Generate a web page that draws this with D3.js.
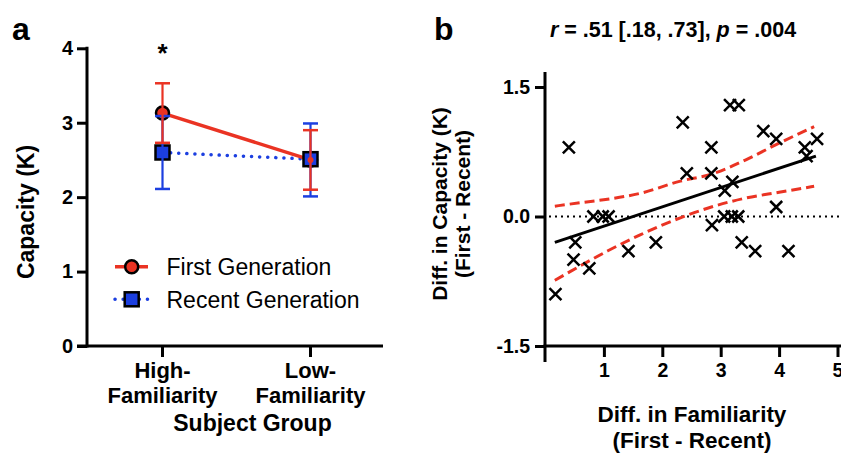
<!DOCTYPE html>
<html><head><meta charset="utf-8">
<script src="https://cdn.jsdelivr.net/npm/d3@7"></script>
<style>
html,body{margin:0;padding:0;background:#fff;}
svg{display:block;font-family:"Liberation Sans",Arial,sans-serif;}
</style></head>
<body>
<svg id="chart" width="841" height="453"></svg>
<script>
// ---------- Panel a data ----------
const groups = ["High-Familiarity", "Low-Familiarity"];
const groupLabelLines = [["High-", "Familiarity"], ["Low-", "Familiarity"]];
const firstMean = [3.13, 2.50];
const firstLo = [2.73, 2.10];
const firstHi = [3.53, 2.90];
const recentMean = [2.60, 2.51];
const recentLo = [2.11, 2.01];
const recentHi = [3.09, 2.99];
const capTicks = [0, 1, 2, 3, 4];
const seriesNames = ["First Generation", "Recent Generation"];

// ---------- Panel b data ----------
const famDiff = [0.17, 0.40, 0.48, 0.51, 0.75, 0.82, 0.98, 1.08, 1.42, 1.89, 2.35, 2.42, 2.84, 2.84, 2.85,
  3.06, 3.07, 3.16, 3.19, 3.20, 3.30, 3.31, 3.36, 3.59, 3.73, 3.95, 3.95, 4.16, 4.44, 4.47, 4.65];
const capDiff = [-0.90, 0.80, -0.50, -0.30, -0.60, 0.00, 0.00, 0.00, -0.40, -0.30, 1.09, 0.50, 0.80, 0.50, -0.10,
  0.00, 0.30, 1.29, 0.00, 0.40, 0.00, 1.29, -0.30, -0.40, 0.99, 0.90, 0.11, -0.40, 0.80, 0.70, 0.90];
const fitX = [0.16, 4.63];
const fitY = [-0.30, 0.70];
const ciX = [0.16, 0.6, 1.06, 1.63, 2.31, 2.84, 3.44, 4.0, 4.6];
const ciUpper = [0.12, 0.16, 0.20, 0.27, 0.41, 0.49, 0.66, 0.85, 1.04];
const ciLower = [-0.74, -0.57, -0.40, -0.21, -0.015, 0.11, 0.215, 0.28, 0.35];
const xTicksB = [1, 2, 3, 4, 5];
const yTicksB = [-1.5, 0, 1.5];
const statText = {r: ".51 [.18, .73]", p: ".004"};

const RED = "#ea3323", BLUE = "#1c3fe0";
const svg = d3.select("#chart");

// ================= Panel a =================
const ya = d3.scaleLinear().domain([0, 4]).range([346, 48.3]);
const xa = d3.scalePoint().domain(groups).range([162.5, 310.5]);

svg.append("text").attr("x", 12).attr("y", 40).attr("font-size", 32).attr("font-weight", "bold").text("a");

// y axis
const gya = svg.append("g").attr("transform", "translate(87,0)")
  .call(d3.axisLeft(ya).tickValues(capTicks).tickFormat(d3.format("d")).tickSize(10).tickPadding(4).tickSizeOuter(0));
gya.select(".domain").remove();
gya.selectAll(".tick line").attr("stroke", "#000").attr("stroke-width", 3);
gya.selectAll(".tick text").attr("font-size", 20).attr("font-weight", "bold").attr("fill", "#000").attr("font-family", "Liberation Sans, Arial, sans-serif");
svg.append("line").attr("x1", 87).attr("x2", 87).attr("y1", ya(4) - 1.5).attr("y2", ya(0) + 1.5).attr("stroke", "#000").attr("stroke-width", 3);

// x axis
svg.append("line").attr("x1", 77).attr("x2", 383).attr("y1", ya(0)).attr("y2", ya(0)).attr("stroke", "#000").attr("stroke-width", 3);
groups.forEach((g, i) => {
  svg.append("line").attr("x1", xa(g)).attr("x2", xa(g)).attr("y1", ya(0)).attr("y2", ya(0) + 11).attr("stroke", "#000").attr("stroke-width", 3);
  const t = svg.append("text").attr("x", xa(g)).attr("text-anchor", "middle").attr("font-size", 22).attr("font-weight", "bold");
  groupLabelLines[i].forEach((ln, j) => t.append("tspan").attr("x", xa(g)).attr("y", 378 + j * 25).text(ln));
});
svg.append("text").attr("x", 252.5).attr("y", 431).attr("text-anchor", "middle").attr("font-size", 23).attr("font-weight", "bold").text("Subject Group");
svg.append("text").attr("transform", "translate(34,212) rotate(-90)").attr("text-anchor", "middle").attr("font-size", 23).attr("font-weight", "bold").text("Capacity (K)");

// asterisk
svg.append("text").attr("x", xa(groups[0])).attr("y", 62).attr("text-anchor", "middle").attr("font-size", 26).attr("font-weight", "bold").text("*");

// lines
const lineA = d3.line().x((d, i) => xa(groups[i])).y(d => ya(d));
svg.append("path").attr("d", lineA(recentMean)).attr("fill", "none").attr("stroke", BLUE).attr("stroke-width", 3.5)
  .attr("stroke-dasharray", "0.1 8").attr("stroke-linecap", "round");
svg.append("path").attr("d", lineA(firstMean)).attr("fill", "none").attr("stroke", RED).attr("stroke-width", 3.5);

// markers
groups.forEach((g, i) => {
  svg.append("circle").attr("cx", xa(g)).attr("cy", ya(firstMean[i])).attr("r", 6.5).attr("fill", RED).attr("stroke", "#000").attr("stroke-width", 2.5);
});
groups.forEach((g, i) => {
  svg.append("rect").attr("x", xa(g) - 7).attr("y", ya(recentMean[i]) - 7).attr("width", 14).attr("height", 14)
    .attr("fill", BLUE).attr("stroke", "#000").attr("stroke-width", 2.5);
});
// error bars
function errBars(lo, hi, color) {
  groups.forEach((g, i) => {
    const x = xa(g);
    svg.append("line").attr("x1", x).attr("x2", x).attr("y1", ya(lo[i])).attr("y2", ya(hi[i])).attr("stroke", color).attr("stroke-width", 2.2);
    [lo[i], hi[i]].forEach(v => svg.append("line").attr("x1", x - 7.5).attr("x2", x + 7.5).attr("y1", ya(v)).attr("y2", ya(v)).attr("stroke", color).attr("stroke-width", 2.5));
  });
}
errBars(recentLo, recentHi, BLUE);
errBars(firstLo, firstHi, RED);
// red line tip over
svg.append("circle").attr("cx", xa(groups[1])).attr("cy", ya(firstMean[1])).attr("r", 3).attr("fill", RED);

// legend
const legY = [266.7, 299.3];
svg.append("line").attr("x1", 115).attr("x2", 148).attr("y1", legY[0]).attr("y2", legY[0]).attr("stroke", RED).attr("stroke-width", 3.5);
svg.append("circle").attr("cx", 131.7).attr("cy", legY[0]).attr("r", 6.5).attr("fill", RED).attr("stroke", "#000").attr("stroke-width", 2.5);
svg.append("line").attr("x1", 115).attr("x2", 148).attr("y1", legY[1]).attr("y2", legY[1]).attr("stroke", BLUE).attr("stroke-width", 3.5)
  .attr("stroke-dasharray", "0.1 8").attr("stroke-linecap", "round");
svg.append("rect").attr("x", 131.7 - 7).attr("y", legY[1] - 7).attr("width", 14).attr("height", 14).attr("fill", BLUE).attr("stroke", "#000").attr("stroke-width", 2.5);
seriesNames.forEach((n, i) => svg.append("text").attr("x", 166.5).attr("y", legY[i] + 8.3).attr("font-size", 23).text(n));

// ================= Panel b =================
const xb = d3.scaleLinear().domain([0, 5]).range([545.5, 837.5]);
const yb = d3.scaleLinear().domain([-1.5, 1.5]).range([346, 87]);

svg.append("text").attr("x", 434).attr("y", 40).attr("font-size", 32).attr("font-weight", "bold").text("b");
const title = svg.append("text").attr("x", 673).attr("y", 37).attr("text-anchor", "middle").attr("font-size", 21.5).attr("font-weight", "bold");
title.append("tspan").attr("font-style", "italic").text("r");
title.append("tspan").text(" = " + statText.r + ", ");
title.append("tspan").attr("font-style", "italic").text("p");
title.append("tspan").text(" = " + statText.p);

// zero line
svg.append("line").attr("x1", 549).attr("x2", 841).attr("y1", yb(0)).attr("y2", yb(0)).attr("stroke", "#000").attr("stroke-width", 2)
  .attr("stroke-dasharray", "2 4");

// axes
const gyb = svg.append("g").attr("transform", "translate(545,0)")
  .call(d3.axisLeft(yb).tickValues(yTicksB).tickFormat(d3.format(".1f")).tickSize(10).tickPadding(5).tickSizeOuter(0));
gyb.select(".domain").remove();
gyb.selectAll(".tick line").attr("stroke", "#000").attr("stroke-width", 3);
gyb.selectAll(".tick text").attr("font-size", 19.5).attr("font-weight", "bold").attr("fill", "#000").attr("font-family", "Liberation Sans, Arial, sans-serif")
  .text(d => d3.format(".1f")(d).replace("−", "-"));
const gxb = svg.append("g").attr("transform", "translate(0,346)")
  .call(d3.axisBottom(xb).tickValues(xTicksB).tickFormat(d3.format("d")).tickSize(11).tickPadding(6).tickSizeOuter(0));
gxb.select(".domain").remove();
gxb.selectAll(".tick line").attr("stroke", "#000").attr("stroke-width", 3);
gxb.selectAll(".tick text").attr("font-size", 19.5).attr("font-weight", "bold").attr("fill", "#000").attr("font-family", "Liberation Sans, Arial, sans-serif");
svg.append("line").attr("x1", 545).attr("x2", 545).attr("y1", 72).attr("y2", 362).attr("stroke", "#000").attr("stroke-width", 3);
svg.append("line").attr("x1", 543.5).attr("x2", 841).attr("y1", 346).attr("y2", 346).attr("stroke", "#000").attr("stroke-width", 3);

// titles
const yt = svg.append("text").attr("transform", "translate(0,204) rotate(-90)").attr("text-anchor", "middle").attr("font-size", 21).attr("font-weight", "bold");
yt.append("tspan").attr("x", 0).attr("y", 447).text("Diff. in Capacity (K)");
yt.append("tspan").attr("x", 0).attr("y", 470).text("(First - Recent)");
const xt = svg.append("text").attr("text-anchor", "middle").attr("font-size", 22.5).attr("font-weight", "bold");
xt.append("tspan").attr("x", 692).attr("y", 421.5).text("Diff. in Familiarity");
xt.append("tspan").attr("x", 692).attr("y", 448).text("(First - Recent)");

// CI bands
const ciLine = d3.line().curve(d3.curveMonotoneX).x((d, i) => xb(ciX[i])).y(d => yb(d));
[ciUpper, ciLower].forEach(arr => svg.append("path").attr("d", ciLine(arr)).attr("fill", "none").attr("stroke", RED)
  .attr("stroke-width", 3).attr("stroke-dasharray", "10 5"));
// fit
svg.append("line").attr("x1", xb(fitX[0])).attr("x2", xb(fitX[1])).attr("y1", yb(fitY[0])).attr("y2", yb(fitY[1]))
  .attr("stroke", "#000").attr("stroke-width", 3);

// points
const h = 6;
svg.append("g").selectAll("path").data(famDiff).join("path")
  .attr("transform", (d, i) => `translate(${xb(d)},${yb(capDiff[i])})`)
  .attr("d", `M${-h},${-h}L${h},${h}M${-h},${h}L${h},${-h}`)
  .attr("stroke", "#000").attr("stroke-width", 2.5).attr("fill", "none");
</script>
</body></html>
